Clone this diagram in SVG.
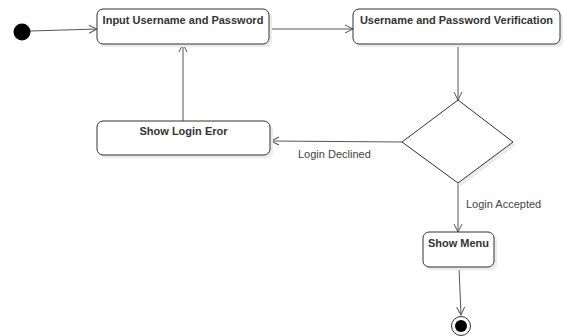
<svg xmlns="http://www.w3.org/2000/svg" width="564" height="336" viewBox="0 0 564 336">
  <style>
    .box { fill: #ffffff; stroke: #333333; stroke-width: 1; }
    .shadow { fill: #ebebeb; stroke: none; }
    .label { font-family: "Liberation Sans", Arial, sans-serif; font-size: 11px; font-weight: bold; fill: #333333; text-anchor: middle; }
    .guard { font-family: "Liberation Sans", Arial, sans-serif; font-size: 11px; fill: #444444; }
    .edge { fill: none; stroke: #555555; stroke-width: 1; marker-end: url(#open); }
  </style>
  <defs>
    <marker id="open" viewBox="0 0 10 10" refX="9" refY="5" markerWidth="10" markerHeight="10" markerUnits="userSpaceOnUse" orient="auto">
      <path d="M1,1 L9,5 L1,9" fill="none" stroke="#555555" stroke-width="1"/>
    </marker>
  </defs>
  <rect width="564" height="336" fill="#ffffff"/>

  <g id="connectors">
    <line class="edge" x1="30" y1="31" x2="97" y2="29"/>
    <line class="edge" x1="269" y1="29" x2="353" y2="29"/>
    <line class="edge" x1="458" y1="44" x2="458" y2="100"/>
    <line class="edge" x1="402" y1="142" x2="271" y2="141"/>
    <line class="edge" x1="183" y1="121" x2="183" y2="44"/>
    <line class="edge" x1="458" y1="183" x2="458" y2="232"/>
    <line class="edge" x1="459" y1="267" x2="461" y2="315"/>
    <text class="guard" x="298" y="158">Login Declined</text>
    <text class="guard" x="466" y="208">Login Accepted</text>
  </g>

  <g id="start">
    <circle cx="22" cy="32" r="8.5" fill="#000000"/>
  </g>

  <g id="input">
    <rect class="shadow" x="100" y="12" width="172" height="35" rx="6"/>
    <rect class="box" x="97" y="9" width="172" height="35" rx="6"/>
    <text class="label" x="183" y="24">Input Username and Password</text>
  </g>

  <g id="verify">
    <rect class="shadow" x="356" y="12" width="207" height="35" rx="6"/>
    <rect class="box" x="353" y="9" width="207" height="35" rx="6"/>
    <text class="label" x="456.5" y="24">Username and Password Verification</text>
  </g>

  <g id="decision">
    <polygon class="shadow" points="461,103 516,145 461,186 405,145"/>
    <polygon class="box" points="458,100 513,142 458,183 402,142"/>
  </g>

  <g id="error">
    <rect class="shadow" x="100" y="124" width="173" height="34" rx="6"/>
    <rect class="box" x="97" y="121" width="173" height="34" rx="6"/>
    <text class="label" x="183.5" y="135">Show Login Eror</text>
  </g>

  <g id="menu">
    <rect class="shadow" x="426" y="235" width="71" height="35" rx="6"/>
    <rect class="box" x="423" y="232" width="71" height="35" rx="6"/>
    <text class="label" x="458.5" y="247">Show Menu</text>
  </g>

  <g id="end">
    <circle cx="461" cy="326" r="9.5" fill="#ffffff" stroke="#333333" stroke-width="1"/>
    <circle cx="461" cy="326" r="6" fill="#000000"/>
  </g>
</svg>
